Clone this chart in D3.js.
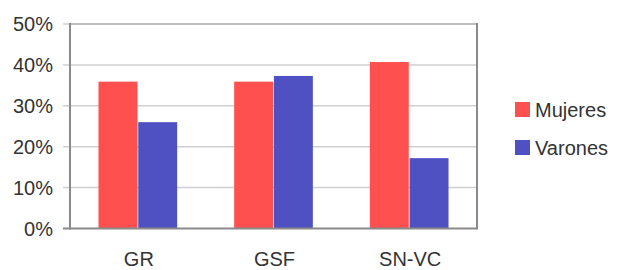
<!DOCTYPE html>
<html><head><meta charset="utf-8">
<script src="https://cdn.jsdelivr.net/npm/d3@7"></script>
<style>body{margin:0;background:#fff}text{font-family:"Liberation Sans",Arial,sans-serif;fill:#333}</style>
</head><body><svg id="c" width="618" height="270"></svg>
<script>
const categories = ["GR", "GSF", "SN-VC"];
const seriesNames = ["Mujeres", "Varones"];
const mujeres = [35.9, 35.9, 40.7];
const varones = [26.0, 37.3, 17.2];
const yTicks = [0, 10, 20, 30, 40, 50];
const colors = ["#FF5050", "#4F51C2"];

const svg = d3.select("#c");
const m = {l: 70, t: 24, r: 477, b: 228.5};
const x = d3.scaleBand().domain(categories).range([m.l, m.r]).paddingInner(0.42).paddingOuter(0.21);
const xs = d3.scaleBand().domain(seriesNames).range([0, x.bandwidth()]).paddingInner(0.02);
const y = d3.scaleLinear().domain([0, 50]).range([m.b, m.t]);
const data = categories.map((c, i) => ({c, v: [mujeres[i], varones[i]]}));

// gridlines
svg.append("g").selectAll("line").data(yTicks.filter(t => t > 0)).join("line")
  .attr("x1", m.l - 7).attr("x2", m.r).attr("y1", d => y(d)).attr("y2", d => y(d))
  .attr("stroke", "#cfcfcf").attr("stroke-width", 1.5);

// bars
svg.append("g").selectAll("g").data(data).join("g")
  .attr("transform", d => `translate(${x(d.c)},0)`)
  .selectAll("rect").data(d => d.v.map((v, k) => ({k, v}))).join("rect")
  .attr("x", d => xs(seriesNames[d.k])).attr("width", xs.bandwidth())
  .attr("y", d => y(d.v)).attr("height", d => y(0) - y(d.v))
  .attr("fill", d => colors[d.k]);

// frame
svg.append("line").attr("x1", m.l).attr("x2", m.r).attr("y1", m.t).attr("y2", m.t).attr("stroke", "#bdbdbd").attr("stroke-width", 2);
svg.append("line").attr("x1", m.r).attr("x2", m.r).attr("y1", m.t - 1).attr("y2", m.b + 1).attr("stroke", "#8a8a8a").attr("stroke-width", 2);
svg.append("line").attr("x1", m.l).attr("x2", m.l).attr("y1", m.t - 1).attr("y2", m.b + 1).attr("stroke", "#8a8a8a").attr("stroke-width", 2);
svg.append("line").attr("x1", m.l - 7).attr("x2", m.r).attr("y1", m.b).attr("y2", m.b).attr("stroke", "#8a8a8a").attr("stroke-width", 2);

// y axis labels
svg.append("g").selectAll("text").data(yTicks).join("text")
  .attr("x", 53).attr("y", d => y(d)).attr("dy", "0.36em").attr("text-anchor", "end")
  .attr("font-size", 20).text(d => d + "%");

// x labels
svg.append("g").selectAll("text").data(categories).join("text")
  .attr("x", d => x(d) + x.bandwidth() / 2 + 1).attr("y", 266).attr("text-anchor", "middle")
  .attr("font-size", 20).text(d => d);

// legend
const lg = svg.append("g").selectAll("g").data(seriesNames).join("g")
  .attr("transform", (d, i) => `translate(515,${102 + i * 38})`);
lg.append("rect").attr("width", 15).attr("height", 15).attr("fill", (d, i) => colors[i]);
lg.append("text").attr("x", 20).attr("y", 15).attr("font-size", 20).text(d => d);
</script></body></html>
